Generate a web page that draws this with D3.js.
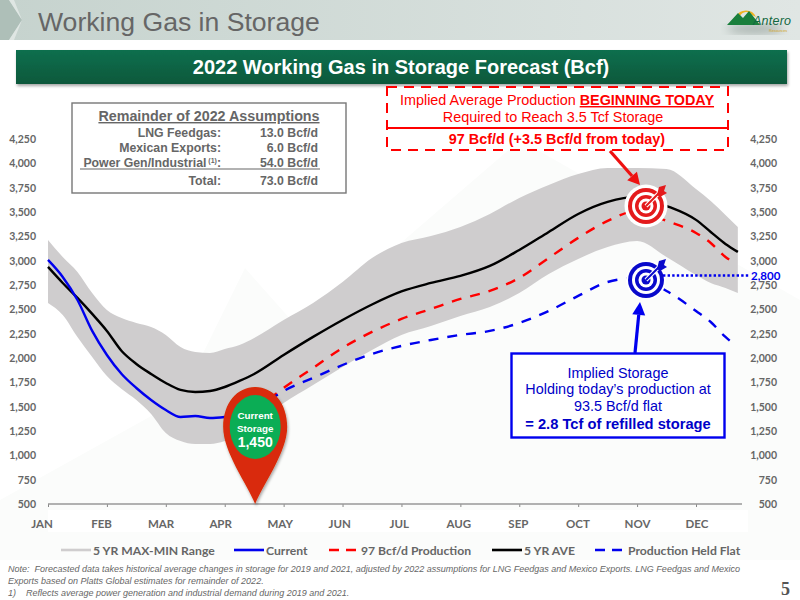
<!DOCTYPE html>
<html><head><meta charset="utf-8">
<script src="https://cdn.jsdelivr.net/npm/d3@7/dist/d3.min.js"></script>
<style>html,body{margin:0;padding:0;background:#fff}svg{display:block}</style>
</head><body><svg id="c" width="800" height="600"></svg>
<script>
const monthLabels=["JAN","FEB","MAR","APR","MAY","JUN","JUL","AUG","SEP","OCT","NOV","DEC"];
const yTicks=[500,750,1000,1250,1500,1750,2000,2250,2500,2750,3000,3250,3500,3750,4000,4250];
const monthPos=[0,.25,.5,.75,1,1.25,1.5,1.75,2,2.25,2.5,2.75,3,3.25,3.5,4,4.5,5,5.5,6,6.5,7,7.5,8,8.5,9,9.5,10,10.5,11,11.25,11.5,11.71];
const rangeMax=[3213,3038,2884,2668,2494,2411,2360,2319,2237,2113,2062,2052,2093,2134,2206,2391,2566,2781,3028,3182,3254,3347,3480,3645,3778,3891,3953,3953,3943,3737,3614,3470,3347];
const rangeMin=[2566,2442,2216,2011,1815,1682,1569,1425,1230,1147,1117,1117,1147,1219,1312,1538,1723,1908,2083,2237,2329,2432,2525,2668,2864,3018,3141,3203,3038,2853,2771,2720,2668];
const fiveYrAve=[2936,2771,2617,2453,2278,2072,1939,1836,1743,1672,1651,1661,1702,1764,1836,2031,2217,2391,2550,2684,2771,2843,2946,3110,3295,3480,3604,3655,3563,3419,3295,3172,3090];
const currentPos=[0,.25,.5,.75,1,1.25,1.5,1.75,2,2.25,2.5,2.75,3,3.25,3.5];
const current=[3008,2833,2596,2278,2031,1836,1692,1569,1466,1394,1404,1384,1394,1415,1450];
const forecastPos=[3.5,4,4.5,5,5.5,6,6.5,7,7.5,8,8.5,9,9.5,10,10.5,11,11.25,11.5,11.6];
const prod97=[1450,1692,1898,2103,2268,2401,2504,2607,2689,2823,3028,3234,3408,3511,3408,3285,3182,3038,2997];
const prodFlat=[1450,1661,1795,1928,2042,2124,2185,2237,2278,2360,2483,2638,2781,2823,2689,2483,2370,2216,2165];
const legendItems=["5 YR MAX-MIN Range","Current","97 Bcf/d Production","5 YR AVE","Production Held Flat"];
const assumptions=[["LNG Feedgas:","13.0 Bcf/d"],["Mexican Exports:","6.0 Bcf/d"],["Power Gen/Industrial","54.0 Bcf/d"],["Total:","73.0 Bcf/d"]];
const notes=["Note:  Forecasted data takes historical average changes in storage for 2019 and 2021, adjusted by 2022 assumptions for LNG Feedgas and Mexico Exports. LNG Feedgas and Mexico","Exports based on Platts Global estimates for remainder of 2022.","1)    Reflects average power generation and industrial demand during 2019 and 2021."];

const svg=d3.select("#c");
const SANS="'Liberation Sans',Arial,sans-serif", LATO="Lato,'Open Sans',sans-serif";
const defs=svg.append("defs");
function grad(id,stops,h){const g=defs.append("linearGradient").attr("id",id);
 if(!h)g.attr("x1",0).attr("x2",0).attr("y1",0).attr("y2",1);
 stops.forEach(s=>g.append("stop").attr("offset",s[0]).attr("stop-color",s[1]));}
grad("hd",[[0,"#c6d3ce"],[1,"#e0e6e4"]],true);
grad("ban",[[0,"#0f6f4e"],[1,"#09583b"]]);
const sh=defs.append("filter").attr("id","sh").attr("x","-5%").attr("y","-10%").attr("width","110%").attr("height","130%");
sh.append("feDropShadow").attr("dx",1).attr("dy",2).attr("stdDeviation",1.5).attr("flood-color","#000").attr("flood-opacity",.35);
const bl=defs.append("filter").attr("id","bl");bl.append("feGaussianBlur").attr("stdDeviation",5);

const x=d3.scaleLinear().domain([0,11]).range([48,696]);
const xLab=d3.scalePoint().domain(monthLabels).range([42,697]);
const y=d3.scaleLinear().domain([500,4250]).range([504,139]);

// watermark
svg.append("path").attr("d","M0,560 L0,500 L180,400 L245,268 L300,330 L520,140 L800,300 L800,560Z").attr("fill","#fbfcfb");
svg.append("rect").attr("x",48).attr("y",510).attr("width",700).attr("height",22).attr("fill","#fff");

// header
svg.append("rect").attr("width",800).attr("height",40).attr("fill","url(#hd)");
svg.append("path").attr("d","M0,0 L9,0 L22,20 L9,40 L0,40Z").attr("fill","#aebfb8");
svg.append("path").attr("d","M9,0 L14,0 L22,20 L14,40 L9,40 L22,20Z").attr("fill","#dfe6e3");
svg.append("text").attr("x",38).attr("y",31).attr("font-family",SANS).attr("font-size",26.6).attr("fill","#666").text("Working Gas in Storage");
// logo
svg.append("ellipse").attr("cx",755).attr("cy",29).attr("rx",28).attr("ry",5).attr("fill","#a9b3af").attr("filter","url(#bl)");
svg.append("path").attr("d","M736,17 A11,11 0 0 1 756,17 L752,15 A7,7 0 0 0 740,16Z").attr("fill","#f0b323");
svg.append("path").attr("d","M727,25 L738,13 L743,18 L749,11 L760,25Z").attr("fill","#1a7f3c");
svg.append("text").attr("x",753).attr("y",25).attr("font-family",SANS).attr("font-style","italic").attr("font-size",12.5).attr("fill","#12673f").attr("textLength",38).text("Antero");
svg.append("text").attr("x",769).attr("y",31.5).attr("font-family",SANS).attr("font-size",3.8).attr("fill","#d3a520").text("Resources");

// banner
svg.append("rect").attr("x",16).attr("y",50).attr("width",771).attr("height",34).attr("fill","url(#ban)").attr("filter","url(#sh)");
svg.append("text").attr("x",401).attr("y",74).attr("text-anchor","middle").attr("font-family",SANS).attr("font-weight",700).attr("font-size",20).attr("fill","#fff").text("2022 Working Gas in Storage Forecast (Bcf)");

// range band
const area=d3.area().x((d,i)=>x(monthPos[i])).y0((d,i)=>y(rangeMin[i])).y1(d=>y(d)).curve(d3.curveMonotoneX);
svg.append("path").datum(rangeMax).attr("d",area).attr("fill","#cfcdce");

// axes
function styleAxis(g){g.selectAll("text").attr("font-family",LATO).attr("font-weight",700).attr("font-size",10.5).attr("fill","#666");g.select(".domain").remove();g.selectAll("line").remove();}
const fmt=d3.format(",");
svg.append("g").attr("transform","translate(36,0)").call(d3.axisLeft(y).tickValues(yTicks).tickFormat(fmt).tickSize(0).tickPadding(0)).call(styleAxis);
svg.append("g").attr("transform","translate(777,0)").call(d3.axisLeft(y).tickValues(yTicks).tickFormat(fmt).tickSize(0).tickPadding(0)).call(styleAxis);
const xg=svg.append("g").attr("transform","translate(0,504)").call(d3.axisBottom(x).tickValues(d3.range(0,12)).tickFormat("").tickSize(3));
xg.select(".domain").remove();
xg.selectAll("line").attr("stroke","#888");
svg.append("line").attr("x1",48).attr("x2",742).attr("y1",504).attr("y2",504).attr("stroke","#999").attr("stroke-width",1.3);
const xl=svg.append("g");
xl.selectAll("text").data(monthLabels).join("text").attr("x",d=>xLab(d)).attr("y",528).attr("text-anchor","middle").attr("font-family",LATO).attr("font-weight",700).attr("font-size",11.5).attr("fill","#666").text(d=>d);

// lines
const lineOf=xs=>d3.line().x((d,i)=>x(xs[i])).y(d=>y(d)).curve(d3.curveMonotoneX);
function draw(vals,xs,col,dash){const p=svg.append("path").datum(vals).attr("d",lineOf(xs)).attr("fill","none").attr("stroke",col).attr("stroke-width",2.4);if(dash)p.attr("stroke-dasharray",dash);return p;}
draw(fiveYrAve,monthPos,"#000");
draw(current,currentPos,"#0000ee");
draw(prod97,forecastPos,"#ff0000","10,9");
draw(prodFlat,forecastPos,"#0000ee","10,9");

// assumptions box
const ab=svg.append("g").attr("font-family",SANS).attr("font-weight",700).attr("fill","#666");
ab.append("rect").attr("x",72).attr("y",103).attr("width",274).attr("height",90).attr("fill","#fff").attr("stroke","#777").attr("stroke-width",1.4);
ab.append("text").attr("x",209).attr("y",121).attr("text-anchor","middle").attr("font-size",14.3).attr("text-decoration","underline").text("Remainder of 2022 Assumptions");
const rowY=[137,152,167,185];
assumptions.forEach((r,i)=>{
 const t=ab.append("text").attr("x",221).attr("y",rowY[i]).attr("text-anchor","end").attr("font-size",12.3);
 t.append("tspan").text(r[0]);
 if(i===2){t.append("tspan").attr("font-size",7).attr("dy",-4).text(" (1)");t.append("tspan").attr("dy",4).text(":");}
 ab.append("text").attr("x",318).attr("y",rowY[i]).attr("text-anchor","end").attr("font-size",12.3).text(r[1]);
});
ab.append("line").attr("x1",80).attr("x2",320).attr("y1",169).attr("y2",169).attr("stroke","#666").attr("stroke-width",1.2);

// red call-out
const rc=svg.append("g").attr("fill","#ff0000").attr("font-family",SANS);
rc.append("rect").attr("x",387).attr("y",87).attr("width",341).attr("height",63).attr("fill","#fff").attr("stroke","#f00").attr("stroke-width",2).attr("stroke-dasharray","10,7");
rc.append("path").attr("d","M387,122 V128 H728 V122").attr("fill","none").attr("stroke","#f00").attr("stroke-width",1.8);
const r1=rc.append("text").attr("x",557).attr("y",105).attr("text-anchor","middle").attr("font-size",14.4);
r1.append("tspan").text("Implied Average Production ");
r1.append("tspan").attr("font-weight",700).attr("text-decoration","underline").text("BEGINNING TODAY");
rc.append("text").attr("x",553).attr("y",122).attr("text-anchor","middle").attr("font-size",14.4).text("Required to Reach 3.5 Tcf Storage");
rc.append("text").attr("x",557).attr("y",144).attr("text-anchor","middle").attr("font-size",14.4).attr("font-weight",700).text("97 Bcf/d (+3.5 Bcf/d from today)");
function arrow(x1,y1,x2,y2,col,w,hl,hw){
 const a=Math.atan2(y2-y1,x2-x1),bx=x2-hl*Math.cos(a),by=y2-hl*Math.sin(a),nx=-Math.sin(a)*hw,ny=Math.cos(a)*hw;
 svg.append("line").attr("x1",x1).attr("y1",y1).attr("x2",bx).attr("y2",by).attr("stroke",col).attr("stroke-width",w);
 svg.append("path").attr("d",`M${x2},${y2} L${bx+nx},${by+ny} L${bx-nx},${by-ny}Z`).attr("fill",col);
}
arrow(610,151,640,185,"#ee1111",3.2,12,6.5);

// targets
function target(cx,cy,col,halo){
 const g=svg.append("g").attr("transform",`translate(${cx},${cy})`);
 if(halo)g.append("circle").attr("r",halo).attr("fill","#fff");
 [[18,col],[14,"#fff"],[11,col],[7.5,"#fff"],[4.5,col]].forEach(r=>g.append("circle").attr("r",r[0]).attr("fill",r[1]));
 g.append("line").attr("x1",0).attr("y1",0).attr("x2",15).attr("y2",-15).attr("stroke","#fff").attr("stroke-width",4);
 g.append("line").attr("x1",0).attr("y1",0).attr("x2",15).attr("y2",-15).attr("stroke",col).attr("stroke-width",2);
 g.append("path").attr("d","M11,-11 L13,-19 L20,-21 L18,-15 L21,-13 L14,-9Z").attr("fill",col);
}
target(646,206,"#e41a1c",21.5);
target(646,280,"#0a0acb",20);

// 2,800 marker (drawn just above the axis position in the reference)
const markerY=275.5;
svg.append("line").attr("x1",663).attr("x2",750).attr("y1",markerY).attr("y2",markerY).attr("stroke","#0000ee").attr("stroke-width",2.6).attr("stroke-dasharray","2.4,2.2");
svg.append("text").attr("x",751).attr("y",markerY+4).attr("font-family",LATO).attr("font-weight",700).attr("font-size",11.5).attr("fill","#0000ee").text("2,800");

// blue call-out
arrow(635,353,640,302,"#0000ee",3.2,13,6.5);
const bc=svg.append("g").attr("font-family",SANS).attr("fill","#0000c8").attr("text-anchor","middle");
bc.append("rect").attr("x",511.5).attr("y",353.5).attr("width",213).attr("height",84).attr("fill","#fff").attr("stroke","#0000ee").attr("stroke-width",2.4);
[["Implied Storage",378,400],["Holding today’s production at",394,400],["93.5 Bcf/d flat",411,400],["= 2.8 Tcf of refilled storage",429,700]].forEach(d=>
 bc.append("text").attr("x",618).attr("y",d[1]).attr("font-size",d[2]===700?14.7:14.4).attr("font-weight",d[2]).text(d[0]));

// pin
const px=x(3.5)+1, tipY=y(500);
const pin=svg.append("g").attr("transform",`translate(${px},0)`);
pin.append("path").attr("d",`M0,${tipY} C-8,484 -32,452 -32,427 C-32,403 -18,387 0,387 C18,387 32,403 32,427 C32,452 8,484 0,${tipY}Z`).attr("fill","#d92b07").attr("filter","url(#sh)");
pin.append("ellipse").attr("cy",427).attr("rx",25.5).attr("ry",32).attr("fill","#0bad55");
[["Current",419,9.8],["Storage",432,9.8]].forEach(d=>pin.append("text").attr("y",d[1]).attr("text-anchor","middle").attr("font-family",SANS).attr("font-weight",700).attr("font-size",d[2]).attr("fill","#fff").text(d[0]));
pin.append("text").attr("y",447).attr("text-anchor","middle").attr("font-family",SANS).attr("font-weight",700).attr("font-size",14).attr("fill","#fff").text("1,450");

// legend
const leg=[{x1:61,x2:91,c:"#cfcdce",tx:93},{x1:234,x2:264,c:"#0000ee",tx:266},{x1:329,x2:356,c:"#ff0000",tx:361,d:"10,7"},{x1:492,x2:522,c:"#000",tx:524},{x1:595,x2:622,c:"#0000ee",tx:628,d:"10,7"}];
leg.forEach((l,i)=>{
 const p=svg.append("line").attr("x1",l.x1).attr("x2",l.x2).attr("y1",550).attr("y2",550).attr("stroke",l.c).attr("stroke-width",2.6);
 if(l.d)p.attr("stroke-dasharray",l.d);
 svg.append("text").attr("x",l.tx).attr("y",554.5).attr("font-family",LATO).attr("font-weight",700).attr("font-size",12.2).attr("fill","#666").text(legendItems[i]);
});

// notes
notes.forEach((n,i)=>svg.append("text").attr("x",8).attr("y",[572,584,596][i]).attr("font-family",SANS).attr("font-style","italic").attr("font-size",9).attr("fill","#666").style("white-space","pre").text(n));
svg.append("text").attr("x",781).attr("y",595).attr("font-family","'Liberation Serif',serif").attr("font-weight",700).attr("font-size",18).attr("fill","#555").text("5");
</script></body></html>
